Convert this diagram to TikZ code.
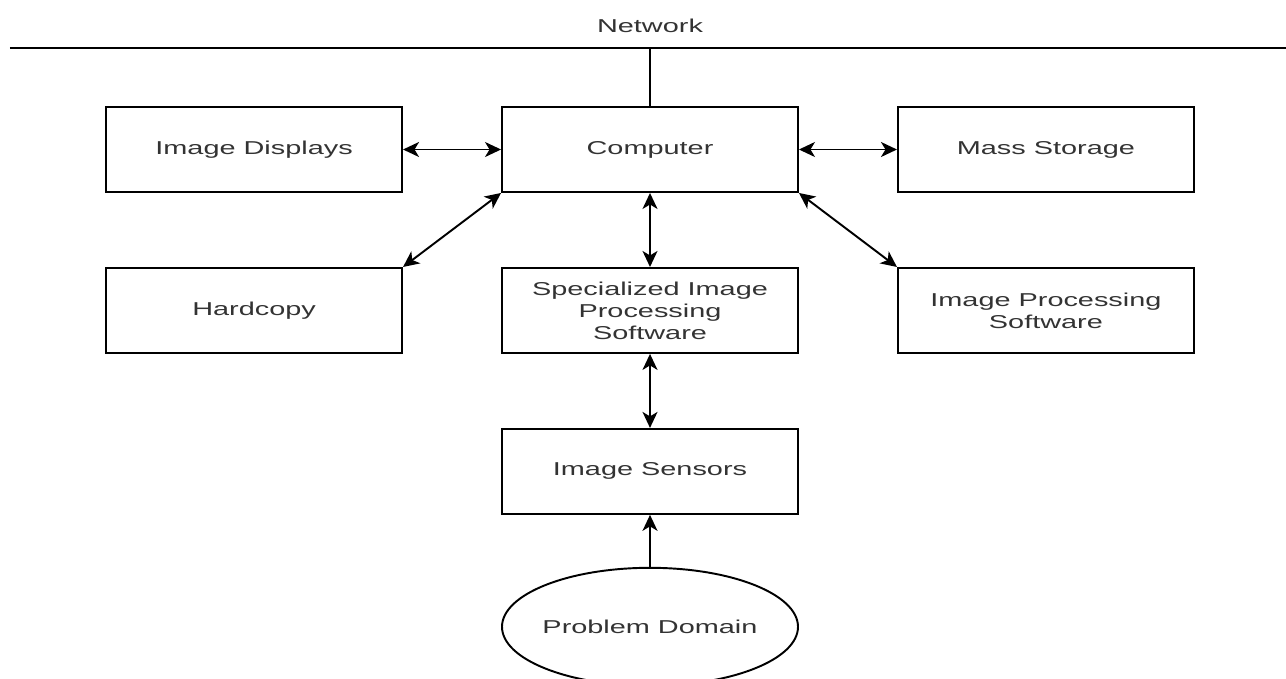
\documentclass[tikz,border=0pt]{standalone}
\usepackage{fontspec}
\setmainfont[FakeStretch=1.55]{Liberation Sans}
\usepackage{tikz}
\usetikzlibrary{shapes.geometric, arrows.meta, positioning, calc}

\begin{document}
\begin{tikzpicture}[
    >={Stealth[length=0.32cm, width=0.3cm, inset=0.09cm]},
    node distance=1.48cm and 1.96cm,
    box/.style={draw, line width=1.1pt, minimum width=5.92cm, minimum height=1.7cm, align=center, text=black!80, font=\fontsize{10.6}{12.5}\selectfont},
    blob/.style={draw, ellipse, line width=1.1pt, inner sep=0pt, minimum width=5.92cm, minimum height=2.36cm, text=black!80, font=\fontsize{10.6}{12.5}\selectfont},
    link/.style={<->, line width=1.1pt},
    wire/.style={line width=1.1pt},
  ]
  \useasboundingbox (0,0) rectangle (25.72,-13.56);
  % Network bus
  \coordinate (netL) at (0.2,-0.96);
  \coordinate (netR) at (25.72,-0.96);
  \draw[wire] (netL) -- (netR);
  \node[text=black!80, font=\fontsize{10.6}{12.5}\selectfont] (net) at (13,-0.52) {Network};
  % Top row
  \node[box] (computer) at (13,-2.99) {Computer};
  \node[box, left=of computer] (displays) {Image Displays};
  \node[box, right=of computer] (storage) {Mass Storage};
  \coordinate (tap) at (computer.north |- netL);
  \draw[wire] (tap) -- (computer.north);
  % Middle row
  \node[box, below=of computer] (special) {Specialized Image\\Processing\\Software};
  \node[box, left=of special] (hardcopy) {Hardcopy};
  \node[box, right=of special] (ipsoft) {Image Processing\\Software};
  % Bottom
  \node[box, below=of special] (sensors) {Image Sensors};
  \node[blob, below=1.04cm of sensors] (domain) {\makebox[3.6cm]{Problem Domain}};
  % Connections
  \draw[link] (displays.east) -- (computer.west);
  \draw[link] (computer.east) -- (storage.west);
  \draw[link] (computer.south west) -- (hardcopy.north east);
  \draw[link] (computer.south) -- (special.north);
  \draw[link] (computer.south east) -- (ipsoft.north west);
  \draw[link] (special.south) -- (sensors.north);
  \draw[->, wire] (domain.north) -- (sensors.south);
\end{tikzpicture}
\end{document}
